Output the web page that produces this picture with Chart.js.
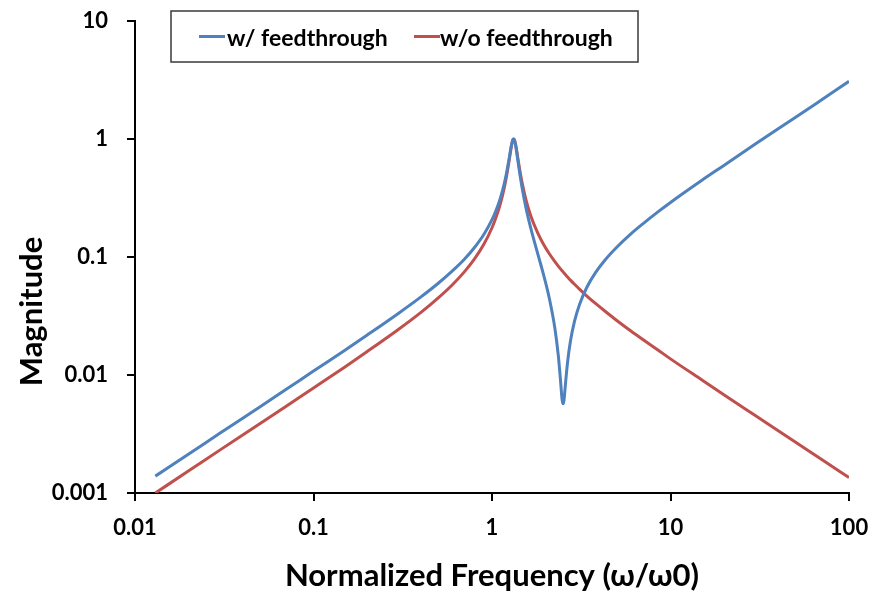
<!DOCTYPE html>
<html><head><meta charset="utf-8">
<script src="https://cdn.jsdelivr.net/npm/chart.js@4/dist/chart.umd.min.js"></script>
<style>html,body{margin:0;padding:0;background:#fff}#wrap{width:880px;height:595px}</style>
</head><body><div id="wrap"><canvas id="c" width="880" height="595"></canvas></div>
<script>
// ---- data ----
const freq = [0.013, 0.02, 0.03, 0.05, 0.07, 0.1, 0.15, 0.2, 0.3, 0.4, 0.5, 0.6, 0.7, 0.8, 0.9, 1.0,
  1.05, 1.1, 1.15, 1.2, 1.24, 1.27, 1.29, 1.31, 1.323, 1.335, 1.355, 1.38, 1.42, 1.47, 1.55, 1.65,
  1.8, 1.95, 2.1, 2.25, 2.35, 2.42, 2.47, 2.5, 2.53, 2.58, 2.65, 2.75, 2.9, 3.1, 3.4, 3.8, 4.3,
  5, 6, 7, 8.5, 10, 15, 20, 30, 50, 70, 100];
const magWithFeedthrough = [0.00139, 0.00214, 0.00322, 0.00536, 0.00752, 0.0108, 0.0162, 0.0218,
  0.0334, 0.0459, 0.0599, 0.0762, 0.0957, 0.121, 0.155, 0.207, 0.245, 0.297, 0.374, 0.495, 0.649,
  0.805, 0.915, 0.990, 1.0, 0.978, 0.888, 0.744, 0.550, 0.396, 0.261, 0.175, 0.108, 0.0696, 0.0438,
  0.0249, 0.0148, 0.00902, 0.0062, 0.0057, 0.00608, 0.00842, 0.0128, 0.0193, 0.0286, 0.0400,
  0.0554, 0.0737, 0.0944, 0.121, 0.157, 0.191, 0.241, 0.290, 0.447, 0.600, 0.910, 1.52, 2.14, 3.08];
const magWithoutFeedthrough = [0.001, 0.00154, 0.00232, 0.00386, 0.00542, 0.00776, 0.0117, 0.0158,
  0.0244, 0.0339, 0.0450, 0.0582, 0.0748, 0.0968, 0.128, 0.177, 0.214, 0.265, 0.341, 0.463, 0.619,
  0.781, 0.897, 0.982, 1.0, 0.984, 0.905, 0.770, 0.584, 0.435, 0.305, 0.223, 0.161, 0.127, 0.106,
  0.0913, 0.0838, 0.0793, 0.0764, 0.0748, 0.0732, 0.0708, 0.0677, 0.0637, 0.0587, 0.0532, 0.0467,
  0.0404, 0.0347, 0.0290, 0.0236, 0.0200, 0.0163, 0.0137, 0.00907, 0.00678, 0.00451, 0.00270,
  0.00193, 0.00135];
const seriesNames = ['w/ feedthrough', 'w/o feedthrough'];
const xTicks = [0.01, 0.1, 1, 10, 100];
const xTickLabels = ['0.01', '0.1', '1', '10', '100'];
const yTicks = [0.001, 0.01, 0.1, 1, 10];
const yTickLabels = ['0.001', '0.01', '0.1', '1', '10'];
const xTitle = 'Normalized Frequency (ω/ω0)';
const yTitle = 'Magnitude';

// ---- styling ----
const colors = ['#4F81BD', '#C0504D'];
const FONT = 'Lato, "Open Sans", sans-serif';

const toPts = (ys) => freq.map((f, i) => ({x: f, y: ys[i]}));

const extras = {
  id: 'extras',
  afterDraw(chart) {
    const ctx = chart.ctx;
    ctx.save();
    // y-axis title
    ctx.fillStyle = '#000';
    ctx.font = 'bold 31px ' + FONT;
    ctx.textAlign = 'center';
    ctx.textBaseline = 'middle';
    ctx.translate(31.5, 311.5);
    ctx.rotate(-Math.PI / 2);
    ctx.fillText(yTitle, 0, 0);
    ctx.setTransform(1, 0, 0, 1, 0, 0);
    // boxed legend
    const bx = 171, by = 11, bw = 467, bh = 51;
    ctx.fillStyle = '#fff';
    ctx.fillRect(bx, by, bw, bh);
    ctx.strokeStyle = '#3a3a3a';
    ctx.lineWidth = 1.5;
    ctx.strokeRect(bx, by, bw, bh);
    ctx.font = 'bold 23px ' + FONT;
    ctx.textBaseline = 'alphabetic';
    ctx.textAlign = 'left';
    const items = [{sx: 199, tx: 227}, {sx: 414, tx: 440}];
    chart.data.datasets.forEach((ds, i) => {
      const it = items[i];
      ctx.strokeStyle = ds.borderColor;
      ctx.lineWidth = 3;
      ctx.beginPath();
      ctx.moveTo(it.sx, 36.5);
      ctx.lineTo(it.sx + 26, 36.5);
      ctx.stroke();
      ctx.fillStyle = '#000';
      ctx.fillText(ds.label, it.tx, 45.5);
    });
    ctx.restore();
  }
};

const axisCommon = {
  type: 'logarithmic',
  border: {display: true, color: '#000', width: 2},
  grid: {drawOnChartArea: false, drawTicks: true, tickLength: 8, color: '#000', lineWidth: 2},
};

new Chart(document.getElementById('c'), {
  type: 'line',
  data: {
    datasets: [
      {label: seriesNames[0], data: toPts(magWithFeedthrough), borderColor: colors[0],
       backgroundColor: colors[0], borderWidth: 3, pointRadius: 0, cubicInterpolationMode: 'monotone', fill: false},
      {label: seriesNames[1], data: toPts(magWithoutFeedthrough), borderColor: colors[1],
       backgroundColor: colors[1], borderWidth: 3, pointRadius: 0, cubicInterpolationMode: 'monotone', fill: false}
    ]
  },
  options: {
    responsive: false,
    animation: false,
    devicePixelRatio: 1,
    layout: {padding: {left: 0, top: 21, right: 31, bottom: 0}},
    plugins: {legend: {display: false}, tooltip: {enabled: false}},
    scales: {
      x: Object.assign({}, axisCommon, {
        position: 'bottom',
        min: 0.01, max: 100,
        afterBuildTicks: (s) => { s.ticks = xTicks.map(v => ({value: v})); },
        afterFit: (s) => { s.height = 102; s.paddingLeft = 0; s.paddingRight = 0; },
        ticks: {color: '#000', padding: 14, maxRotation: 0, autoSkip: false,
          font: {family: FONT, size: 22, weight: 'bold'},
          callback: (v) => { const i = xTicks.indexOf(v); return i >= 0 ? xTickLabels[i] : ''; }},
        title: {display: true, text: xTitle, color: '#000', padding: {top: 0, bottom: 0},
          font: {family: FONT, size: 31, weight: 'bold'}}
      }),
      y: Object.assign({}, axisCommon, {
        position: 'left',
        min: 0.001, max: 10,
        afterBuildTicks: (s) => { s.ticks = yTicks.map(v => ({value: v})); },
        afterFit: (s) => { s.width = 135; s.paddingTop = 0; s.paddingBottom = 0; },
        ticks: {color: '#000', padding: 19, autoSkip: false,
          font: {family: FONT, size: 22, weight: 'bold'},
          callback: (v) => { const i = yTicks.indexOf(v); return i >= 0 ? yTickLabels[i] : ''; }},
        title: {display: false}
      })
    }
  },
  plugins: [extras]
});
</script></body></html>
